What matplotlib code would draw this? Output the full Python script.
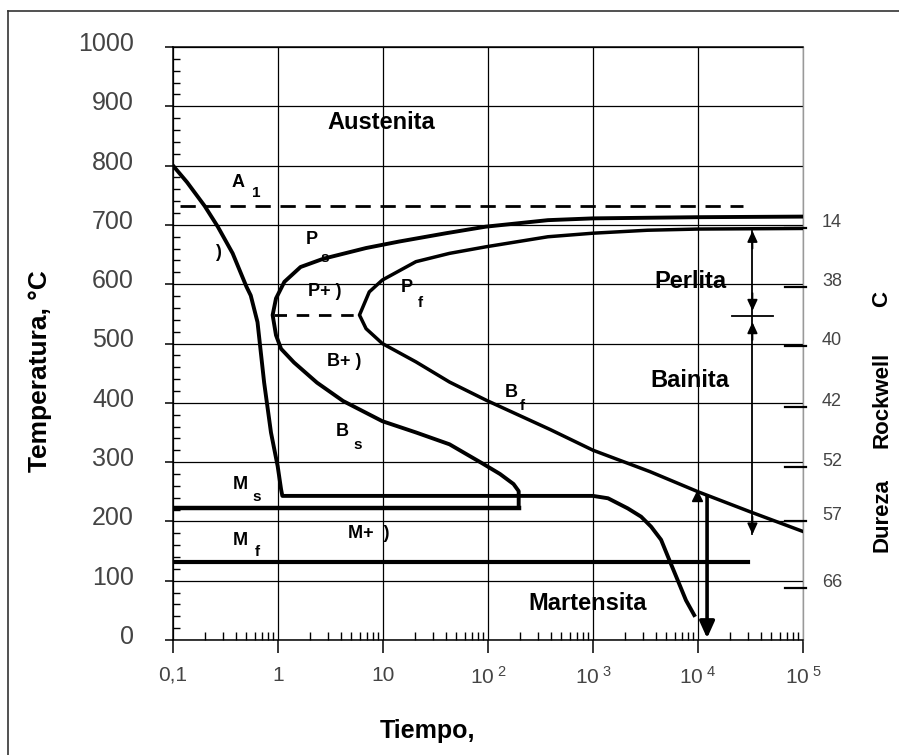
import matplotlib
matplotlib.use("Agg")
import matplotlib.pyplot as plt
from matplotlib.lines import Line2D
from matplotlib.ticker import FixedLocator, LogLocator, NullFormatter
import matplotlib.transforms as mtransforms

plt.rcParams['font.family'] = ['Liberation Sans', 'DejaVu Sans']
plt.rcParams['mathtext.fontset'] = 'custom'
plt.rcParams['mathtext.rm'] = 'Liberation Sans'
plt.rcParams['mathtext.it'] = 'Liberation Sans'

# ---------------- data ----------------
x_ticks = [0.1, 1, 10, 100, 1000, 1e4, 1e5]
x_labels = ['0,1', '1', '10', r'$\mathrm{10}^{\ \mathrm{2}}$', r'$\mathrm{10}^{\ \mathrm{3}}$',
            r'$\mathrm{10}^{\ \mathrm{4}}$', r'$\mathrm{10}^{\ \mathrm{5}}$']
y_ticks = [0, 100, 200, 300, 400, 500, 600, 700, 800, 900, 1000]

# cooling path (enfriamiento)
t_enfr = [0.1, 0.136, 0.2, 0.267, 0.37, 0.5, 0.55, 0.638, 0.738, 0.857, 0.993, 1.07, 1.1,
          10, 100, 1000, 1390, 2140, 2870, 3580, 4450, 5330, 6400, 7680, 9200]
T_enfr = [800, 772, 732, 697, 652, 596, 581, 536, 434, 350, 293, 254, 243,
          243, 243, 243, 239, 222, 208, 191, 169, 135, 101, 67, 42]

# transformation start curve (Ps / Bs)
t_ini = [1e5, 1e4, 1000, 372, 95, 40, 14.3, 6.9, 2.71, 1.64, 1.15, 0.957, 0.889,
         0.957, 1.07, 1.42, 2.35, 4.17, 9.85, 20.6, 43, 90, 130, 175, 196, 196]
T_ini = [714, 713, 711, 708, 697, 686, 672, 661, 643, 629, 604, 576, 548,
         514, 491, 468, 434, 403, 369, 350, 330, 297, 280, 263, 251, 223]

# transformation finish curve (Pf / Bf)
t_fin = [1e5, 1e4, 3300, 1000, 372, 95, 43, 20.6, 9.85, 7.4, 5.97,
         6.9, 9.85, 20.6, 43, 97, 390, 1000, 3480, 1e4, 31600, 1e5]
T_fin = [694, 693, 691, 686, 680, 663, 652, 638, 607, 587, 548,
         525, 500, 469, 435, 404, 355, 320, 284, 250, 216, 183]

# horizontal lines
t_ms = [0.1, 196]
T_ms = [223, 223]
t_mf = [0.1, 30000]
T_mf = [132, 132]
t_a1 = [0.117, 27000]
T_a1 = [732, 732]
t_nariz = [0.92, 5.5]
T_nariz = [548, 548]

# arrows
t_flecha_mart = 12200
T_flecha_mart = [243, 3]
t_flecha_rng = 33000
T_perlita_rng = [690, 548]
T_bainita_rng = [545, 178]
t_sep = [21000, 52000]
T_sep = [546, 546]

# hardness scale
dureza_T = [695, 596, 495, 393, 292, 200, 88]
dureza_lbl = ['14', '38', '40', '42', '52', '57', '66']

# ---------------- figure ----------------
W, H = 899, 755
fig = plt.figure(figsize=(W / 100, H / 100), dpi=100)
fig.patch.set_facecolor('white')

# outer frame (top and left lines)
fig.add_artist(Line2D([8 / W, 1.0], [1 - 11 / H, 1 - 11 / H], color='#333333', lw=1.2))
fig.add_artist(Line2D([8 / W, 8 / W], [0, 1 - 11 / H], color='#333333', lw=1.2))

ax = fig.add_axes([173 / W, 1 - 640 / H, 630 / W, 593 / H])
ax.set_xscale('log')
ax.set_xlim(0.1, 1e5)
ax.set_ylim(0, 1000)

ax.xaxis.set_major_locator(FixedLocator(x_ticks))
ax.set_xticklabels(x_labels)
ax.xaxis.set_minor_locator(LogLocator(base=10, subs=range(2, 10), numticks=20))
ax.xaxis.set_minor_formatter(NullFormatter())
ax.set_yticks(y_ticks)
ax.set_yticklabels([str(v) for v in y_ticks])
ax.yaxis.set_minor_locator(FixedLocator(list(range(0, 1001, 20))))

ax.grid(True, which='major', color='black', lw=0.9, zorder=1)
ax.set_axisbelow(True)

ax.tick_params(axis='x', which='major', direction='out', length=9.5, width=1.1,
               labelsize=15, labelcolor='#444444', pad=9)
ax.tick_params(axis='x', which='minor', direction='in', length=5.5, width=1.0)
ax.tick_params(axis='y', which='major', direction='out', length=6, width=1.1,
               labelsize=18, labelcolor='#444444', pad=22)
ax.tick_params(axis='y', which='minor', direction='in', length=5, width=1.0)

for lab in ax.get_yticklabels():
    lab.set_transform(lab.get_transform() + mtransforms.ScaledTranslation(0, 4 / 72, fig.dpi_scale_trans))

for side in ['left', 'bottom', 'top']:
    ax.spines[side].set_color('black')
    ax.spines[side].set_linewidth(1.1)
ax.spines['right'].set_color('#999999')
ax.spines['right'].set_linewidth(1.0)

# curves
ax.plot(t_enfr, T_enfr, color='black', lw=2.8, zorder=5, solid_joinstyle='round')
ax.plot(t_ini, T_ini, color='black', lw=2.8, zorder=5, solid_joinstyle='round')
ax.plot(t_fin, T_fin, color='black', lw=2.5, zorder=5, solid_joinstyle='round')
ax.plot(t_ms, T_ms, color='black', lw=3.2, zorder=5)
ax.plot(t_mf, T_mf, color='black', lw=3.0, zorder=5)
ax.plot(t_a1, T_a1, color='black', lw=2.0, dashes=(5.5, 3.5), zorder=4)
ax.plot(t_nariz, T_nariz, color='black', lw=2.0, dashes=(4.5, 3.5), zorder=4)

# martensite arrow
ax.annotate('', xy=(t_flecha_mart, T_flecha_mart[1]), xytext=(t_flecha_mart, T_flecha_mart[0]),
            arrowprops=dict(arrowstyle='-|>,head_length=1.0,head_width=0.45', color='black',
                            lw=2.6, shrinkA=0, shrinkB=0), zorder=6)
ax.plot([9800], [243], marker='^', color='black', markersize=7, zorder=6)

# range arrows
ax.plot([t_flecha_rng, t_flecha_rng], [T_perlita_rng[0], T_bainita_rng[1]], color='black', lw=1.3, zorder=5)
ax.plot(t_sep, T_sep, color='black', lw=1.3, zorder=5)
ahead = dict(arrowstyle='-|>,head_length=0.65,head_width=0.3', color='black', lw=1.3,
             shrinkA=0, shrinkB=0)
ax.annotate('', xy=(t_flecha_rng, T_perlita_rng[0]), xytext=(t_flecha_rng, T_perlita_rng[0] - 30),
            arrowprops=ahead, zorder=6)
ax.annotate('', xy=(t_flecha_rng, T_perlita_rng[1] + 7), xytext=(t_flecha_rng, T_perlita_rng[1] + 37),
            arrowprops=ahead, zorder=6)
ax.annotate('', xy=(t_flecha_rng, T_bainita_rng[0] - 9), xytext=(t_flecha_rng, T_bainita_rng[0] - 39),
            arrowprops=ahead, zorder=6)
ax.annotate('', xy=(t_flecha_rng, T_bainita_rng[1]), xytext=(t_flecha_rng, T_bainita_rng[1] + 30),
            arrowprops=ahead, zorder=6)

# hardness scale
blend = mtransforms.blended_transform_factory(ax.transAxes, ax.transData)
for Tv, lbl in zip(dureza_T, dureza_lbl):
    ax.plot([0.971, 1.005], [Tv, Tv], color='black', lw=1.6, transform=blend, clip_on=False, zorder=5)
    ax.annotate(lbl, xy=(1.030, Tv), xycoords=blend, xytext=(0, 4), textcoords='offset points',
                ha='left', va='center', fontsize=13, color='#444444')

# region labels
big = dict(fontsize=17, fontweight='bold', ha='center', va='center', zorder=7)
ax.text(9.6, 872, 'Austenita', **big)
ax.text(8400, 605, 'Perlita', **big)
ax.text(8400, 437, 'Bainita', **big)
ax.text(895, 62, 'Martensita', **big)

sm = dict(fontsize=13, fontweight='bold', ha='center', va='center', zorder=7)
sb = dict(fontsize=11, fontweight='bold', ha='center', va='center', zorder=7)
ax.text(0.416, 772, 'A', **sm)
ax.text(0.617, 754, '1', **sb)
ax.text(0.268, 653, ')', **sm)
ax.text(2.12, 675, 'P', **sm)
ax.text(2.81, 644, 's', **sb)
ax.text(1.91, 587, 'P+ )', fontsize=13, fontweight='bold', ha='left', va='center', zorder=7)
ax.text(17, 595, 'P', **sm)
ax.text(22.7, 568, 'f', **sb)
ax.text(2.93, 469, 'B+ )', fontsize=13, fontweight='bold', ha='left', va='center', zorder=7)
ax.text(4.05, 352, 'B', **sm)
ax.text(5.7, 329, 's', **sb)
ax.text(166, 418, 'B', **sm)
ax.text(211, 395, 'f', **sb)
ax.text(0.44, 263, 'M', **sm)
ax.text(0.628, 241, 's', **sb)
ax.text(0.44, 167, 'M', **sm)
ax.text(0.64, 148, 'f', **sb)
ax.text(4.6, 180, 'M+  )', fontsize=13, fontweight='bold', ha='left', va='center', zorder=7)

# axis titles
fig.text(40 / W, 1 - 371 / H, 'Temperatura, °C', rotation=90, ha='center', va='center',
         fontsize=19, fontweight='bold')
fig.text(428 / W, 1 - 731 / H, 'Tiempo,', ha='center', va='center', fontsize=18, fontweight='bold')
fig.text(882 / W, 1 - 515 / H, 'Dureza', rotation=90, ha='center', va='center', fontsize=16, fontweight='bold')
fig.text(882 / W, 1 - 400 / H, 'Rockwell', rotation=90, ha='center', va='center', fontsize=16, fontweight='bold')
fig.text(882 / W, 1 - 299 / H, 'C', rotation=90, ha='center', va='center', fontsize=16, fontweight='bold')

fig.savefig('out.png', dpi=100, facecolor='white')
